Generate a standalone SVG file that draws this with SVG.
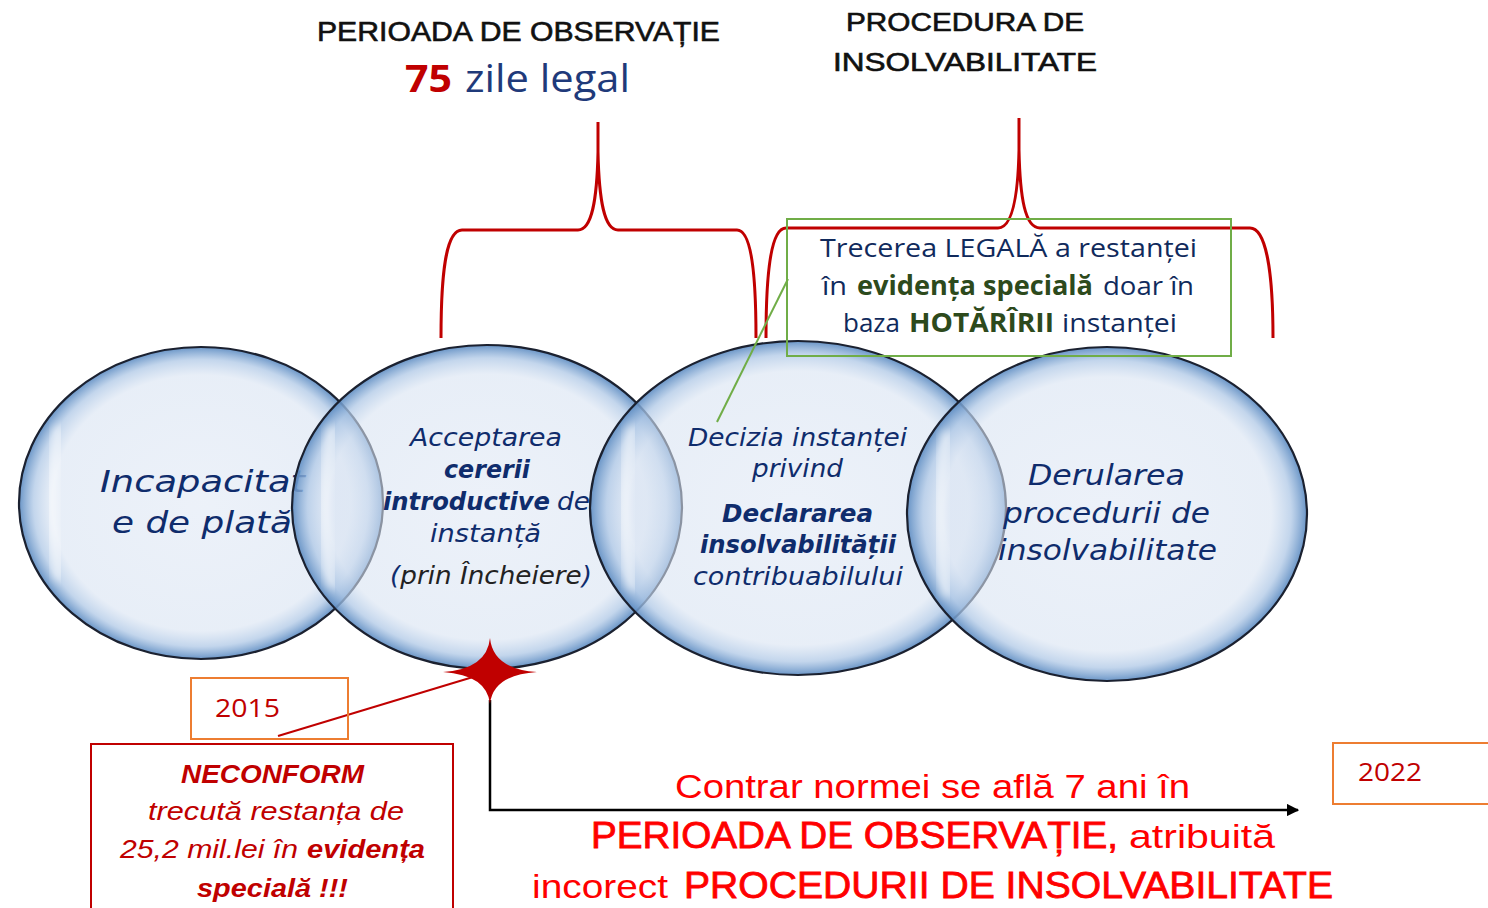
<svg xmlns="http://www.w3.org/2000/svg" width="1488" height="908" viewBox="0 0 1488 908">
<style>
.bub{fill:url(#bubG);stroke:#1b2130;stroke-width:2.2}
.hl{fill:none;stroke:#ffffff;stroke-opacity:.55;stroke-width:10;stroke-linecap:round;filter:url(#blur)}
.et{font-family:"DejaVu Sans",Verdana,sans-serif;font-style:italic;fill:#0f2c6c}
.b{font-weight:bold}
.ttl{font-family:"Liberation Sans",Arial,sans-serif;fill:#111;stroke:#111;stroke-width:0.6}
.gt{font-family:"Open Sans","Liberation Sans",sans-serif;font-size:26px;fill:#102a5c}
.gb{font-weight:bold;fill:#2d4a1c}
.rt{font-family:"Liberation Sans Narrow","Liberation Sans",Arial,sans-serif;fill:#ff0000}
.rc{font-family:"Liberation Sans",Arial,sans-serif;fill:#ff0000;stroke:#ff0000;stroke-width:0.8}
.nt{font-family:"Liberation Sans",Arial,sans-serif;font-style:italic;font-size:25px;fill:#c00000}
.brace{fill:none;stroke:#c00000;stroke-width:3}
.obox{fill:none;stroke:#ed7d31;stroke-width:2}
.yr{font-family:"Open Sans","Liberation Sans",sans-serif;font-size:25px;fill:#c00000}
</style>
<defs>
<radialGradient id="bubG" cx="50%" cy="50%" r="50%">
<stop offset="0" stop-color="#dde6f4" stop-opacity="0.55"/>
<stop offset="0.82" stop-color="#d8e3f2" stop-opacity="0.6"/>
<stop offset="0.92" stop-color="#afc8e6" stop-opacity="0.75"/>
<stop offset="1" stop-color="#5d8cc2" stop-opacity="0.92"/>
</radialGradient>
<filter id="blur" x="-50%" y="-20%" width="200%" height="140%"><feGaussianBlur stdDeviation="4"/></filter>
<marker id="arr" viewBox="0 0 10 10" refX="9" refY="5" markerWidth="5" markerHeight="5" orient="auto" markerUnits="strokeWidth">
<path d="M0,0 L10,5 L0,10 Z" fill="#000"/>
</marker>
</defs>
<rect width="1488" height="908" fill="#ffffff"/>

<g id="title-observatie">
<text class="ttl" x="317" y="41" font-size="27" textLength="403" lengthAdjust="spacingAndGlyphs">PERIOADA DE OBSERVAȚIE</text>
<text x="405" y="92" font-family="Open Sans,Liberation Sans,sans-serif" font-size="38" font-weight="bold" fill="#c00000" textLength="47" lengthAdjust="spacingAndGlyphs">75</text>
<text x="465" y="92" font-family="Open Sans,Liberation Sans,sans-serif" font-size="38" fill="#1f3a7a" textLength="165" lengthAdjust="spacingAndGlyphs">zile legal</text>
</g>
<g id="title-procedura">
<text class="ttl" x="846" y="31" font-size="25" textLength="238" lengthAdjust="spacingAndGlyphs">PROCEDURA DE</text>
<text class="ttl" x="833" y="71" font-size="25" textLength="264" lengthAdjust="spacingAndGlyphs">INSOLVABILITATE</text>
</g>

<g id="node-incapacitate">
<ellipse class="bub" cx="201" cy="503" rx="182" ry="156"/>
<path class="hl" d="M58,430 Q46,503 58,576"/>
<text class="et" x="100" y="492" font-size="31" textLength="205" lengthAdjust="spacingAndGlyphs">Incapacitat</text>
<text class="et" x="112" y="533" font-size="31" textLength="180" lengthAdjust="spacingAndGlyphs">e de plată</text>
</g>
<g id="node-acceptarea">
<ellipse class="bub" cx="487" cy="507" rx="195" ry="162"/>
<path class="hl" d="M331,430 Q318,507 331,584"/>
<text class="et" x="410" y="446" font-size="25" textLength="152" lengthAdjust="spacingAndGlyphs">Acceptarea</text>
<text class="et b" x="444" y="478" font-size="25" textLength="86" lengthAdjust="spacingAndGlyphs">cererii</text>
<text class="et b" x="383" y="510" font-size="25" textLength="167" lengthAdjust="spacingAndGlyphs">introductive</text>
<text class="et" x="557" y="510" font-size="25" textLength="33" lengthAdjust="spacingAndGlyphs">de</text>
<text class="et" x="430" y="542" font-size="25" textLength="111" lengthAdjust="spacingAndGlyphs">instanță</text>
<text class="et" x="390" y="584" font-size="25" textLength="202" lengthAdjust="spacingAndGlyphs">(<tspan fill="#222">prin Încheiere</tspan>)</text>
</g>
<g id="node-decizia">
<ellipse class="bub" cx="798" cy="508" rx="208" ry="167"/>
<path class="hl" d="M631,430 Q618,508 631,586"/>
<text class="et" x="688" y="446" font-size="25" textLength="219" lengthAdjust="spacingAndGlyphs">Decizia instanței</text>
<text class="et" x="752" y="477" font-size="25" textLength="91" lengthAdjust="spacingAndGlyphs">privind</text>
<text class="et b" x="722" y="522" font-size="25" textLength="151" lengthAdjust="spacingAndGlyphs">Declararea</text>
<text class="et b" x="700" y="553" font-size="25" textLength="196" lengthAdjust="spacingAndGlyphs">insolvabilității</text>
<text class="et" x="693" y="585" font-size="25" textLength="210" lengthAdjust="spacingAndGlyphs">contribuabilului</text>
</g>
<g id="node-derularea">
<ellipse class="bub" cx="1107" cy="514" rx="200" ry="167"/>
<path class="hl" d="M946,435 Q933,514 946,593"/>
<text class="et" x="1028" y="485" font-size="29" textLength="157" lengthAdjust="spacingAndGlyphs">Derularea</text>
<text class="et" x="1003" y="523" font-size="29" textLength="207" lengthAdjust="spacingAndGlyphs">procedurii de</text>
<text class="et" x="998" y="560" font-size="29" textLength="219" lengthAdjust="spacingAndGlyphs">insolvabilitate</text>
</g>

<g id="connectors">
<path class="brace" d="M441,338 C441,272 446,230 462,230 L578,230 C592,230 597,200 598,152 L598,122 M598,152 C599,200 604,230 618,230 L737,230 C751,230 756,272 756,338"/>
<path class="brace" d="M766,338 C766,272 771,228 786,228 L998,228 C1012,228 1018,198 1019,150 L1019,118 M1019,150 C1020,198 1025,228 1040,228 L1250,228 C1266,228 1273,272 1273,338"/>
<path d="M788,279 L717,422" fill="none" stroke="#70ad47" stroke-width="2"/>
<path d="M473,677 L278,736" fill="none" stroke="#c00000" stroke-width="2"/>
<path d="M490,700 L490,810 L1298,810" fill="none" stroke="#000" stroke-width="2.5" marker-end="url(#arr)"/>
</g>

<g id="star">
<path d="M490,638 Q493,669 537,672 Q493,675 490,704 Q487,675 443,672 Q487,669 490,638 Z" fill="#c00000"/>
</g>

<g id="note-legal">
<rect x="787" y="219" width="444" height="137" fill="none" stroke="#70ad47" stroke-width="2"/>
<text class="gt" x="820" y="257" textLength="377" lengthAdjust="spacingAndGlyphs">Trecerea LEGALĂ a restanței</text>
<text class="gt" x="822" y="295" textLength="25" lengthAdjust="spacingAndGlyphs">în</text>
<text class="gt gb" x="857" y="295" textLength="236" lengthAdjust="spacingAndGlyphs">evidența specială</text>
<text class="gt" x="1103" y="295" textLength="91" lengthAdjust="spacingAndGlyphs">doar în</text>
<text class="gt" x="843" y="332" textLength="57" lengthAdjust="spacingAndGlyphs">baza</text>
<text class="gt gb" x="909" y="332" textLength="145" lengthAdjust="spacingAndGlyphs">HOTĂRÎRII</text>
<text class="gt" x="1062" y="332" textLength="115" lengthAdjust="spacingAndGlyphs">instanței</text>
</g>

<g id="box-2015">
<rect class="obox" x="191" y="678" width="157" height="61"/>
<text class="yr" x="215" y="717" textLength="65" lengthAdjust="spacingAndGlyphs">2015</text>
</g>
<g id="box-2022">
<rect class="obox" x="1333" y="743" width="165" height="61"/>
<text class="yr" x="1358" y="781" textLength="64" lengthAdjust="spacingAndGlyphs">2022</text>
</g>

<g id="note-neconform">
<rect x="91" y="744" width="362" height="190" fill="none" stroke="#c00000" stroke-width="2"/>
<text class="nt b" x="181" y="783" textLength="183" lengthAdjust="spacingAndGlyphs">NECONFORM</text>
<text class="nt" x="148" y="820" textLength="256" lengthAdjust="spacingAndGlyphs">trecută restanța de</text>
<text class="nt" x="120" y="858" textLength="178" lengthAdjust="spacingAndGlyphs">25,2 mil.lei în</text>
<text class="nt b" x="307" y="858" textLength="118" lengthAdjust="spacingAndGlyphs">evidența</text>
<text class="nt b" x="197" y="897" textLength="151" lengthAdjust="spacingAndGlyphs">specială !!!</text>
</g>

<g id="note-contrar">
<text class="rt" x="675" y="798" font-size="34" textLength="515" lengthAdjust="spacingAndGlyphs">Contrar normei se află 7 ani în</text>
<text class="rc" x="591" y="848" font-size="37" textLength="527" lengthAdjust="spacingAndGlyphs">PERIOADA DE OBSERVAȚIE,</text>
<text class="rt" x="1129" y="848" font-size="34" textLength="146" lengthAdjust="spacingAndGlyphs">atribuită</text>
<text class="rt" x="532" y="898" font-size="34" textLength="136" lengthAdjust="spacingAndGlyphs">incorect</text>
<text class="rc" x="684" y="898" font-size="37" textLength="649" lengthAdjust="spacingAndGlyphs">PROCEDURII DE INSOLVABILITATE</text>
</g>
</svg>
